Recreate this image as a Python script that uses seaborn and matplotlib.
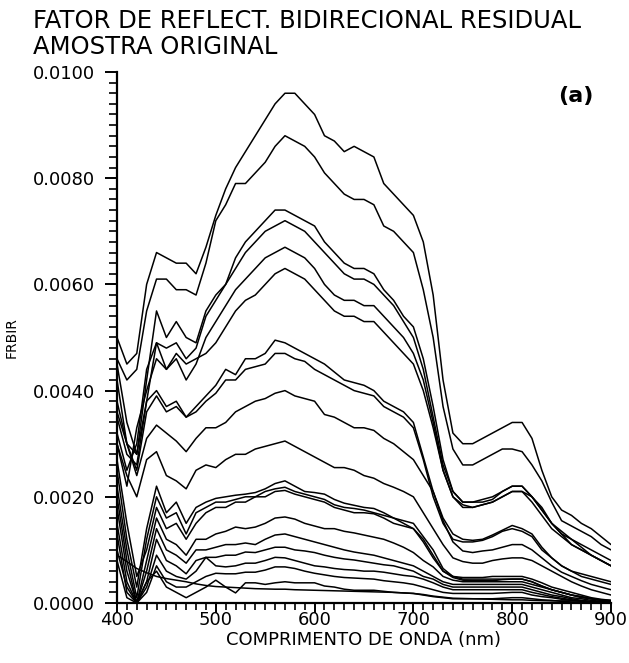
import numpy as np
import pandas as pd
import seaborn as sns
import matplotlib
matplotlib.use("Agg")
import matplotlib.pyplot as plt
from matplotlib.ticker import MultipleLocator, FormatStrFormatter

# Wavelength grid (nm), 10 nm steps
wavelength = list(range(400, 901, 10))

# Residual bidirectional reflectance factor, one spectrum per measurement (units of 1e-4)
s01 = [50, 45, 47, 60, 66, 65, 64, 64, 62, 67, 73, 78, 82, 85, 88, 91, 94, 96, 96, 94, 92, 88, 87, 85, 86, 85, 84, 79, 77, 75, 73, 68, 58, 42, 32, 30, 30, 31, 32, 33, 34, 34, 31, 25, 20, 17.5, 16.5, 15, 14, 12.5, 11]
s02 = [46, 42, 44, 55, 61, 61, 59, 59, 58, 64, 72, 75, 79, 79, 81, 83, 86, 88, 87, 86, 84, 81, 79, 77, 76, 76, 75, 71, 70, 68, 66, 59, 50, 37, 29, 26, 26, 27, 28, 29, 29, 28.5, 26, 23, 19, 15.5, 14.5, 13.5, 12.5, 11, 10]
s03 = [38, 30, 28, 42, 55, 50, 53, 50, 49, 55, 58, 60, 65, 68, 70, 72, 74, 74, 73, 72, 71, 68, 66, 64, 63, 63, 62, 59, 57, 54, 52, 46, 37, 27, 21, 19, 19, 19.5, 20, 21, 22, 22, 20, 18, 15, 13, 11, 10, 9, 8, 7]
s04 = [35, 28, 26, 38, 49, 48, 49, 46, 48, 54, 57, 60, 63, 66, 68, 70, 71, 72, 71, 70, 68, 66, 64, 62, 61, 61, 60, 58, 56, 53, 50, 44, 35, 26, 21, 19, 19, 19, 19.5, 21, 22, 22, 20, 17.5, 15, 13.5, 12, 11, 10, 9, 8]
s05 = [32, 25, 30, 44, 49, 44, 46, 42, 45, 50, 53, 56, 59, 61, 63, 65, 66, 67, 66, 65, 63, 60, 58, 57, 57, 56, 56, 54, 52, 50, 47, 42, 34, 25, 20, 18.5, 18, 18.5, 19, 20, 21, 21, 20, 17.5, 15, 13, 12, 10.5, 9, 8, 7]
s06 = [30, 22, 33, 40, 46, 44, 47, 45, 46, 47, 49, 52, 55, 57, 58, 60, 62, 63, 62, 61, 59, 57, 55, 54, 54, 53, 53, 51, 49, 47, 45, 40, 33, 25, 20, 18, 18, 18.5, 19, 20, 21, 21, 19, 16.5, 14, 12.5, 11, 10, 9, 8, 7]
s07 = [45, 34, 28, 38, 40, 37, 38, 35, 37, 39, 41, 44, 43, 46, 46, 47, 49.5, 49, 48, 47, 46, 45, 43.5, 42, 41.5, 41, 40, 38, 37, 36, 34, 27.5, 21, 16, 13, 12, 11.8, 12, 12.8, 13.7, 14.6, 14, 13, 10.5, 8.5, 7, 6, 5.5, 5, 4.5, 4]
s08 = [42, 30, 25, 36, 39, 36, 37, 35, 36, 38, 39.5, 42, 42, 44, 44.5, 45, 47, 47, 46, 45.5, 44, 43, 42, 41, 40, 39.5, 39, 37, 36, 35, 33, 27, 20, 15, 12, 11.5, 11.5, 11.8, 12.5, 13.5, 14, 13.5, 12.5, 10, 8.5, 7, 6, 5, 4.5, 4, 3.5]
s09 = [36, 30, 24, 31, 33.5, 32, 30.5, 28.5, 31, 33, 33, 34, 36, 37, 38, 38.5, 39.5, 40, 39, 38.5, 38, 35.5, 35, 34, 33, 33, 32.5, 31, 30, 28.5, 27, 24, 21, 15.5, 11.5, 9.8, 9.5, 9.8, 10, 10.5, 11, 11, 10, 8.5, 7, 5.8, 5, 4.2, 3.5, 3, 2.5]
s10 = [30, 24, 20, 27, 28.5, 24, 23, 21.5, 25, 26, 25.5, 27, 28, 28, 29, 29.5, 30, 30.5, 29.5, 28.5, 27.5, 26.5, 25.5, 25.5, 25, 24, 23.5, 22.5, 21.8, 21, 20, 17, 14, 11, 8.5, 7.8, 7.5, 7.5, 8, 8.3, 8.5, 8.5, 8, 7, 6, 5, 4, 3.2, 2.5, 2, 1.5]
s11 = [25, 12, 3, 14, 22, 17, 19, 15, 18, 19, 19.7, 20, 20.3, 20.5, 20.8, 21.5, 22.5, 23, 22, 21, 20.8, 20.5, 19.5, 18.8, 18.4, 18, 17.8, 17, 16, 15.5, 15, 12.5, 10, 6.5, 5, 4.8, 4.8, 4.8, 5, 5, 5, 5, 4.5, 3.8, 3, 2.5, 2, 1.5, 1, 0.7, 0.5]
s12 = [22, 10, 1, 12, 20, 16, 17, 13, 17, 18, 19, 19, 19.5, 20, 20, 21, 21.5, 21.8, 21, 20.5, 20, 19.5, 18.5, 18, 17.8, 17.5, 17, 16.5, 16, 15, 14, 12, 9, 6, 5, 4.5, 4.5, 4.5, 4.5, 4.5, 4.5, 4.5, 4, 3.2, 2.5, 2, 1.5, 1, 0.8, 0.5, 0.3]
s13 = [27, 15, 5, 10, 18, 14, 15, 12, 15, 17, 18, 18, 19, 19, 20, 20, 21, 21.2, 20.5, 20, 19.5, 19, 18, 17.5, 17, 17, 16.8, 16, 15, 14.5, 14, 11.5, 8.5, 6, 4.8, 4.3, 4.2, 4.2, 4.2, 4.4, 4.5, 4.5, 4, 3.2, 2.5, 2, 1.5, 1.2, 0.8, 0.6, 0.5]
s14 = [20, 8, 0, 8, 16, 12, 11, 9, 12, 12, 13, 13.5, 14.3, 14, 14.3, 15, 16, 16.2, 15.8, 15, 14.5, 14, 14, 13.5, 13.2, 12.8, 12.4, 12, 11.3, 10.5, 9.5, 8, 6.8, 5, 4.3, 4, 4, 4, 4, 4, 4, 4, 3.5, 3, 2.5, 2, 1.5, 1.2, 0.8, 0.5, 0.3]
s15 = [18, 6, 0, 6, 14, 10, 9, 7.5, 10, 10, 10.5, 11, 11, 11.3, 11, 12, 12.8, 13, 12.5, 12, 11.5, 11, 10.5, 10, 9.6, 9.3, 9, 8.5, 8, 7.5, 7, 6, 5, 4, 3.5, 3.5, 3.5, 3.5, 3.5, 3.5, 3.5, 3.5, 3, 2.5, 2, 1.5, 1, 0.8, 0.5, 0.3, 0.2]
s16 = [15, 4, 0, 4, 12, 8, 7, 5.5, 8, 8.6, 8.6, 9, 9, 9.6, 9.5, 10, 10.5, 10.5, 10, 9.8, 9.5, 9, 8.6, 8.3, 8.1, 7.8, 7.5, 7.2, 7, 6.5, 6, 5, 4.5, 3.5, 3, 3, 3, 3, 3, 3, 3, 3, 2.5, 2, 1.5, 1.2, 0.8, 0.5, 0.3, 0.2, 0.1]
s17 = [13, 2, 0, 3, 9, 6, 5, 4.5, 6, 8.6, 7, 6.8, 7, 7.5, 7.5, 8, 8.6, 8.5, 8, 7.5, 7, 6.8, 6.5, 6.3, 6.2, 6, 6, 5.8, 5.5, 5.2, 5, 4.5, 3.8, 3, 2.5, 2.5, 2.5, 2.5, 2.5, 2.5, 2.5, 2.5, 2, 1.6, 1.2, 0.9, 0.6, 0.4, 0.2, 0.1, 0]
s18 = [10, 3, 0, 2, 7, 4, 3, 3, 4, 5, 5.6, 5.5, 5.5, 5.8, 5.8, 6.2, 6.8, 6.8, 6.5, 6, 5.6, 5.3, 5, 4.8, 4.7, 4.6, 4.5, 4.2, 4, 3.8, 3.5, 3, 2.5, 2, 1.8, 1.8, 1.8, 1.8, 1.8, 1.9, 2, 2, 1.5, 1.2, 1, 0.7, 0.5, 0.3, 0.2, 0.1, 0]
s19 = [8, 1, 0, 4, 6, 3, 2, 1, 2, 3, 4.3, 3, 1.9, 3.8, 3.8, 3.5, 3.8, 4, 3.8, 3.8, 3.8, 3.2, 3, 2.6, 2.4, 2.4, 2.4, 2.2, 2, 1.9, 1.8, 1.5, 1.2, 1, 0.8, 0.8, 0.8, 0.8, 0.8, 0.9, 1, 1, 0.8, 0.6, 0.5, 0.3, 0.2, 0.1, 0, 0, 0]
s20 = [9, 7.8, 6.5, 5.7, 5, 4.6, 4.3, 4, 3.6, 3.3, 3.1, 3, 2.9, 2.8, 2.7, 2.65, 2.6, 2.6, 2.5, 2.45, 2.4, 2.35, 2.3, 2.25, 2.2, 2.15, 2.1, 2.05, 2, 1.9, 1.8, 1.6, 1.3, 1.1, 0.9, 0.85, 0.8, 0.75, 0.7, 0.65, 0.6, 0.6, 0.5, 0.45, 0.4, 0.4, 0.4, 0.35, 0.3, 0.3, 0.3]

spectra = [s01, s02, s03, s04, s05, s06, s07, s08, s09, s10,
           s11, s12, s13, s14, s15, s16, s17, s18, s19, s20]

rows = []
for k, s in enumerate(spectra):
    for wl, v in zip(wavelength, s):
        rows.append({"curva": k, "wl": wl, "frbir": v * 1e-4})
df = pd.DataFrame(rows)

sns.set_style("ticks")
plt.rcParams["font.family"] = ["DejaVu Sans"]
plt.rcParams["text.color"] = "black"
plt.rcParams["axes.labelcolor"] = "black"
plt.rcParams["xtick.color"] = "black"
plt.rcParams["ytick.color"] = "black"

fig = plt.figure(figsize=(6.29, 6.63), dpi=100)
ax = fig.add_axes([117 / 629, 1 - 603 / 663, (611 - 117) / 629, (603 - 72) / 663])

sns.lineplot(data=df, x="wl", y="frbir", units="curva", estimator=None,
             color="black", linewidth=1.1, ax=ax, legend=False)

ax.set_xlim(400, 900)
ax.set_ylim(0, 0.0100)
ax.xaxis.set_major_locator(MultipleLocator(100))
ax.xaxis.set_minor_locator(MultipleLocator(10))
ax.yaxis.set_major_locator(MultipleLocator(0.002))
ax.yaxis.set_minor_locator(MultipleLocator(0.0002))
ax.yaxis.set_major_formatter(FormatStrFormatter("%.4f"))

for side in ["top", "right"]:
    ax.spines[side].set_visible(False)
for side in ["left", "bottom"]:
    ax.spines[side].set_color("black")
    ax.spines[side].set_linewidth(1.6)

ax.tick_params(which="major", direction="out", length=9, width=1.4, labelsize=13)
ax.tick_params(which="minor", direction="out", length=6, width=1.2)
ax.tick_params(axis="x", which="major", length=7, pad=-1)
ax.tick_params(axis="x", which="minor", length=5)
ax.tick_params(axis="y", which="major", pad=7)

ax.set_xlabel("COMPRIMENTO DE ONDA (nm)", fontsize=13, labelpad=1)
ax.set_ylabel("FRBIR", fontsize=10, labelpad=10)

fig.text(33 / 629, 1 - 28 / 663, "FATOR DE REFLECT. BIDIRECIONAL RESIDUAL",
         fontsize=17.5, ha="left", va="baseline")
fig.text(33 / 629, 1 - 54 / 663, "AMOSTRA ORIGINAL",
         fontsize=17.5, ha="left", va="baseline")
ax.text(864, 0.00954, "(a)", fontsize=16, fontweight="bold", ha="center", va="center")

fig.savefig("out.png", dpi=100, facecolor="white")
